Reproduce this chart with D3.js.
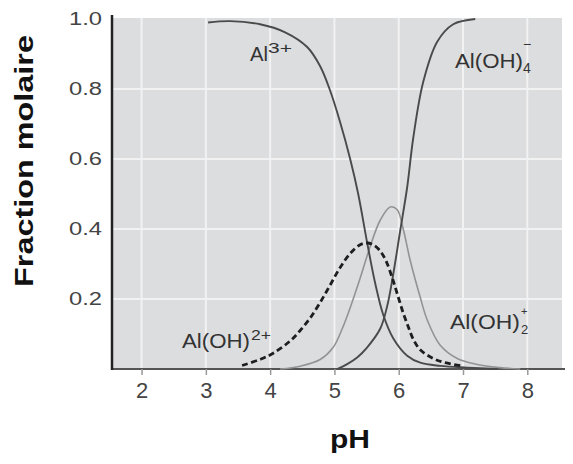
<!DOCTYPE html>
<html><head><meta charset="utf-8">
<script src="https://cdn.jsdelivr.net/npm/d3@7"></script>
<style>body{margin:0;background:#fff;}svg{display:block;}</style>
</head><body>
<svg id="c" width="573" height="464"></svg>
<script>
// ---- data ----
const xTicks = [2, 3, 4, 5, 6, 7, 8];
const yTicks = [0.2, 0.4, 0.6, 0.8, 1.0];
const yTickLabels = ["0.2", "0.4", "0.6", "0.8", "1.0"];

const al3_pH  = [3.035, 3.377, 3.844, 4.233, 4.576, 4.778, 4.934, 5.089, 5.245, 5.370, 5.510, 5.634, 5.759, 5.914, 6.132, 6.335, 6.646, 7.066, 7.533];
const al3_val = [0.99, 0.994, 0.985, 0.962, 0.92, 0.865, 0.795, 0.705, 0.60, 0.50, 0.36, 0.245, 0.155, 0.088, 0.038, 0.018, 0.009, 0.004, 0.0];

const aloh_pH  = [3.564, 3.85, 4.047, 4.311, 4.467, 4.62, 4.778, 4.934, 5.089, 5.245, 5.40, 5.51, 5.603, 5.70, 5.80, 5.90, 5.977, 6.070, 6.15, 6.226, 6.335, 6.537, 6.724, 7.004];
const aloh_val = [0.01, 0.028, 0.045, 0.08, 0.11, 0.145, 0.19, 0.24, 0.29, 0.33, 0.355, 0.36, 0.355, 0.34, 0.31, 0.26, 0.215, 0.16, 0.12, 0.085, 0.055, 0.03, 0.018, 0.008];

const aloh2_pH  = [4.156, 4.467, 4.778, 4.981, 5.121, 5.245, 5.401, 5.556, 5.712, 5.868, 5.977, 6.070, 6.179, 6.335, 6.444, 6.646, 6.911, 7.222, 7.580, 7.891];
const aloh2_val = [0.0, 0.008, 0.027, 0.062, 0.115, 0.175, 0.26, 0.35, 0.425, 0.463, 0.455, 0.40, 0.31, 0.205, 0.14, 0.068, 0.03, 0.013, 0.004, 0.0];

const aloh4_pH  = [5.043, 5.198, 5.354, 5.510, 5.712, 5.821, 5.914, 6.023, 6.132, 6.226, 6.381, 6.599, 6.848, 7.191];
const aloh4_val = [0.0, 0.014, 0.033, 0.062, 0.115, 0.18, 0.27, 0.395, 0.52, 0.66, 0.82, 0.935, 0.985, 1.0];

// ---- layout ----
const svg = d3.select("#c");
const x = d3.scaleLinear().domain([1.54, 8.54]).range([112, 562]);
const y = d3.scaleLinear().domain([0, 1]).range([369, 19]);
const FONT = "Liberation Sans, Arial, Helvetica, sans-serif";

// plot background
svg.append("rect").attr("x", x(1.54)).attr("y", y(1) - 1)
  .attr("width", x(8.54) - x(1.54)).attr("height", y(0) - y(1) + 1)
  .attr("fill", "#dcdddf");

// grid
svg.append("g").selectAll("line").data(xTicks).join("line")
  .attr("x1", d => x(d)).attr("x2", d => x(d))
  .attr("y1", y(1) - 1).attr("y2", y(0))
  .attr("stroke", "#f2f2f2").attr("stroke-width", 2);
svg.append("g").selectAll("line").data(yTicks.slice(0, 4)).join("line")
  .attr("x1", x(1.54)).attr("x2", x(8.54))
  .attr("y1", d => y(d)).attr("y2", d => y(d))
  .attr("stroke", "#f2f2f2").attr("stroke-width", 2);

// x axis
const xAxis = d3.axisBottom(x).tickValues(xTicks).tickSize(6).tickPadding(7).tickFormat(d3.format("d"));
const gx = svg.append("g").attr("transform", `translate(0,${y(0)})`).call(xAxis);
gx.select(".domain").attr("d", `M${x(1.54)},0H${x(8.54) + 3}`).attr("stroke", "#555").attr("stroke-width", 2);
gx.selectAll(".tick line").attr("stroke", "#999").attr("stroke-width", 1.5);
gx.selectAll(".tick text").attr("font-family", FONT).attr("font-size", 22).attr("fill", "#444");

// y axis
const yAxis = d3.axisLeft(y).tickValues(yTicks).tickSize(0).tickPadding(10)
  .tickFormat((d, i) => yTickLabels[i]);
const gy = svg.append("g").attr("transform", `translate(${x(1.54)},0)`).call(yAxis);
gy.select(".domain").attr("d", `M0,${y(1) - 4}V${y(0) + 1}`).attr("stroke", "#222").attr("stroke-width", 2.5);
gy.selectAll(".tick text").attr("font-family", FONT).attr("font-size", 18).attr("fill", "#444")
  .attr("textLength", 33).attr("lengthAdjust", "spacingAndGlyphs");

// curves
const line = d3.line().x(d => x(d[0])).y(d => y(d[1])).curve(d3.curveCatmullRom.alpha(0.5));
const zipped = (a, b) => a.map((v, i) => [v, b[i]]);
const g = svg.append("g").attr("fill", "none");
g.append("path").attr("d", line(zipped(aloh2_pH, aloh2_val))).attr("stroke", "#939393").attr("stroke-width", 1.6);
g.append("path").attr("d", line(zipped(al3_pH, al3_val))).attr("stroke", "#4a4a4a").attr("stroke-width", 1.9);
g.append("path").attr("d", line(zipped(aloh4_pH, aloh4_val))).attr("stroke", "#4a4a4a").attr("stroke-width", 1.9);
g.append("path").attr("d", line(zipped(aloh_pH, aloh_val))).attr("stroke", "#1e1e1e").attr("stroke-width", 2.8).attr("stroke-dasharray", "6,3.5");

// species labels
const lab = svg.append("g").attr("font-family", FONT).attr("fill", "#333");
function word(xp, yp, txt, size, len) {
  const e = lab.append("text").attr("x", xp).attr("y", yp).attr("font-size", size).text(txt);
  if (len) e.attr("textLength", len).attr("lengthAdjust", "spacingAndGlyphs");
  return e;
}
// Al3+
word(250, 61, "Al", 20, 18);
word(268, 53, "3+", 14, 24);
// Al(OH)2+
word(182, 348, "Al(OH)", 20, 68);
word(251, 340, "2+", 14, 20);
// Al(OH)4-
word(455, 68, "Al(OH)", 20, 68);
word(523, 73, "4", 14);
word(523, 49, "−", 14);
// Al(OH)2+ (dihydroxo)
word(450, 329, "Al(OH)", 20, 70);
word(521, 334, "2", 13);
word(521, 315, "+", 11);

// axis titles
svg.append("text").attr("transform", "translate(33,161) rotate(-90)")
  .attr("text-anchor", "middle").attr("font-family", FONT).attr("font-weight", "bold")
  .attr("font-size", 25).attr("fill", "#111")
  .attr("textLength", 252).attr("lengthAdjust", "spacingAndGlyphs").text("Fraction molaire");
svg.append("text").attr("x", 350).attr("y", 448)
  .attr("text-anchor", "middle").attr("font-family", FONT).attr("font-weight", "bold")
  .attr("font-size", 25).attr("fill", "#111")
  .attr("textLength", 40).attr("lengthAdjust", "spacingAndGlyphs").text("pH");
</script>
</body></html>
